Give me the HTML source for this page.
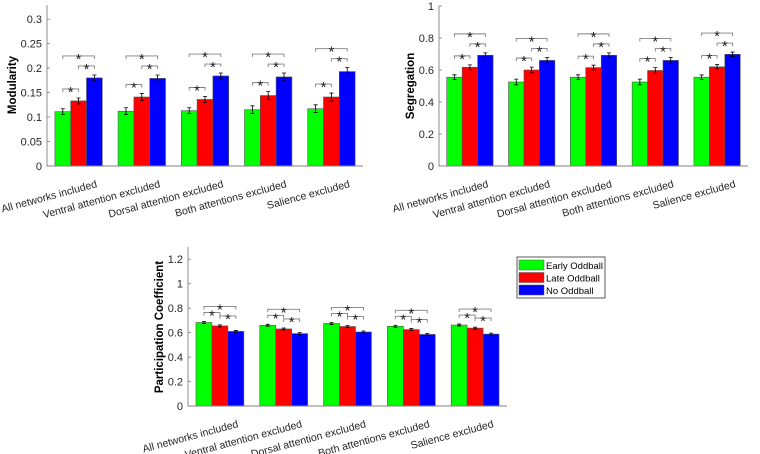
<!DOCTYPE html>
<html><head><meta charset="utf-8"><style>
body{margin:0;background:#fff;}
svg{display:block;font-family:"Liberation Sans",Arial,sans-serif;}
</style></head><body>
<svg id="svg" width="760" height="454" viewBox="0 0 760 454"></svg>
<script>
const categories=["All networks included","Ventral attention excluded","Dorsal attention excluded","Both attentions excluded","Salience excluded"];
const seriesNames=["Early Oddball","Late Oddball","No Oddball"];
const colors=["#00ff00","#ff0000","#0000ff"];
const modGreen=[0.111,0.112,0.113,0.115,0.117];
const modRed=[0.133,0.141,0.136,0.144,0.141];
const modBlue=[0.180,0.179,0.184,0.182,0.193];
const modErr=[0.006,0.007,0.006,0.008,0.008];
const modTicks=[0,0.05,0.1,0.15,0.2,0.25,0.3];
const segGreen=[0.555,0.525,0.555,0.525,0.555];
const segRed=[0.617,0.600,0.615,0.597,0.620];
const segBlue=[0.692,0.660,0.692,0.660,0.698];
const segErr=[0.015,0.018,0.015,0.018,0.014];
const segTicks=[0,0.2,0.4,0.6,0.8,1];
const pcGreen=[0.683,0.660,0.675,0.652,0.662];
const pcRed=[0.655,0.630,0.650,0.625,0.637];
const pcBlue=[0.610,0.592,0.605,0.585,0.588];
const pcErr=[0.008,0.008,0.008,0.008,0.008];
const pcTicks=[0,0.2,0.4,0.6,0.8,1,1.2];

const NS="http://www.w3.org/2000/svg";
const svg=document.getElementById('svg');
function mk(tag,attrs,parent){const e=document.createElementNS(NS,tag);for(const k in attrs)e.setAttribute(k,attrs[k]);(parent||svg).appendChild(e);return e;}

function chart(cfg){
  const g=mk('g',{});
  
  
  const {x0,x1,y0,yTop,ymax,ticks}=cfg;
  const ys=v=>y0-(v/ymax)*(y0-yTop);
  const gw=(x1-x0)/categories.length;
  const bw=gw*0.25;
  const series=[cfg.g,cfg.r,cfg.b];
  ticks.forEach(t=>{
    const y=ys(t);
    const tk=mk('line',{x1:x0,x2:x0+3,y1:y,y2:y,stroke:'#808080','stroke-width':0.8},g);
    
    
    const tl=mk('text',{x:x0-5,y:y+4,'text-anchor':'end','font-size':11,fill:'#262626'},g);
    tl.textContent=String(t);
    
    
  });
  categories.forEach((c,i)=>{
    const cx=x0+gw*(i+0.5);
    const tops=[];
    series.forEach((s,j)=>{
      const bx=cx+(j-1.5)*bw;
      const v=s[i];
      const r=mk('rect',{x:bx,y:ys(v),width:bw,height:y0-ys(v),fill:colors[j],stroke:'#555','stroke-width':0.6},g);
      
      
      const e=cfg.err[i];
      const ex=bx+bw/2;
      const el=mk('path',{d:`M${ex},${ys(v-e)}V${ys(v+e)}M${ex-2},${ys(v+e)}H${ex+2}M${ex-2},${ys(v-e)}H${ex+2}`,stroke:'#000','stroke-width':0.8,fill:'none'},g);
      
      
      tops.push(ys(v+e));
    });
    const bxs=[0,1,2].map(j=>cx+(j-1)*bw);
    const grY=Math.min(tops[0],tops[1])-9;
    const rbY=Math.min(tops[1],tops[2])-9;
    const gbY=Math.min(grY,rbY)-cfg.gbGap;
    [[0,1,grY],[1,2,rbY],[0,2,gbY]].forEach(([a,b,y])=>{
      const br=mk('path',{d:`M${bxs[a]},${y+3}V${y}H${bxs[b]}V${y+3}`,stroke:'#808080','stroke-width':0.9,fill:'none'},g);
      
      
      const st=mk('text',{x:(bxs[a]+bxs[b])/2,y:y+8,'text-anchor':'middle','font-size':15,fill:'#222'},g);
      st.textContent='*';
      
      
    });
    const lx=cx+19, ly=y0+21;
    const xl=mk('text',{x:lx,y:ly,'text-anchor':'end','font-size':10.5,fill:'#262626',transform:`rotate(-15 ${lx} ${ly})`},g);
    xl.textContent=c;
    
    
  });
  const ax=mk('path',{d:`M${x0},${yTop}V${y0}H${x1}`,stroke:'#808080','stroke-width':0.9,fill:'none'},g);
  
  
  const yt=mk('text',{x:cfg.labX,y:cfg.labY,'text-anchor':'middle','font-size':11.5,'font-weight':'bold',fill:'#000',transform:`rotate(-90 ${cfg.labX} ${cfg.labY})`},g);
  yt.textContent=cfg.ylabel;
  
  
}
chart({name:'modularity-chart',x0:47,x1:363,y0:166,yTop:5,ymax:0.329,ticks:modTicks,g:modGreen,r:modRed,b:modBlue,err:modErr,gbGap:10,ylabel:'Modularity',labX:16,labY:85});
chart({name:'segregation-chart',x0:439,x1:748,y0:166,yTop:6,ymax:1,ticks:segTicks,g:segGreen,r:segRed,b:segBlue,err:segErr,gbGap:10,ylabel:'Segregation',labX:414,labY:86});
chart({name:'participation-chart',x0:188,x1:507,y0:406,yTop:247,ymax:1.3,ticks:pcTicks,g:pcGreen,r:pcRed,b:pcBlue,err:pcErr,gbGap:6,ylabel:'Participation Coefficient',labX:163,labY:327});
const lg=mk('g',{});


mk('rect',{x:517,y:257,width:88,height:41,fill:'#fff',stroke:'#333','stroke-width':0.8},lg);
seriesNames.forEach((n,j)=>{
  const y=260+j*12.5;
  const sw=mk('rect',{x:519,y:y,width:25,height:10,fill:colors[j],stroke:'#555','stroke-width':0.5},lg);
  
  
  const t=mk('text',{x:546,y:y+9,'font-size':9.5,fill:'#000'},lg);
  t.textContent=n;
  
  
});
</script>
</body></html>
